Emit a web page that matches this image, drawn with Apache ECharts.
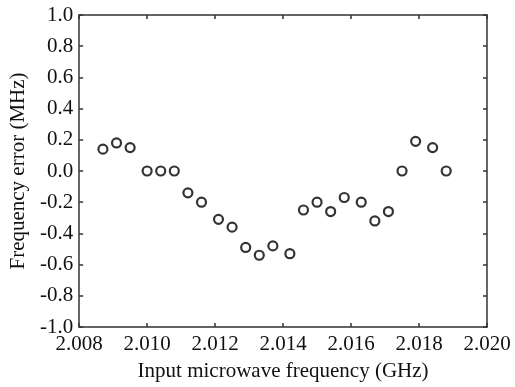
<!DOCTYPE html>
<html>
<head>
<meta charset="utf-8">
<script src="https://cdn.jsdelivr.net/npm/echarts@6/dist/echarts.min.js"></script>
<style>
  html, body { margin: 0; padding: 0; background: #fff; }
  #main { width: 515px; height: 387px; }
</style>
</head>
<body>
<div id="main"></div>
<script>
// input microwave frequency (GHz)
let freqs = [2.0087, 2.0091, 2.0095, 2.0100, 2.0104, 2.0108, 2.0112, 2.0116, 2.0121,
             2.0125, 2.0129, 2.0133, 2.0137, 2.0142, 2.0146, 2.0150, 2.0154, 2.0158,
             2.0163, 2.0167, 2.0171, 2.0175, 2.0179, 2.0184, 2.0188];
// frequency error (MHz)
let errors = [0.14, 0.18, 0.15, 0, 0, 0, -0.14, -0.20, -0.31,
              -0.36, -0.49, -0.54, -0.48, -0.53, -0.25, -0.20, -0.26, -0.17,
              -0.20, -0.32, -0.26, 0, 0.19, 0.15, 0];

let xTicks = [2.008, 2.010, 2.012, 2.014, 2.016, 2.018, 2.020];
let yTicks = [-1.0, -0.8, -0.6, -0.4, -0.2, 0.0, 0.2, 0.4, 0.6, 0.8, 1.0];

let font = 'Liberation Serif';
let axisColor = '#333';

let data = [];
freqs.forEach((f, i) => {
    data.push([f, errors[i]]);
});

let chart = echarts.init(document.getElementById('main'));

let lineStyle = { color: axisColor, width: 1.5 };
let tickStyle = { show: true, inside: true, length: 4, lineStyle: { color: axisColor, width: 1.5 } };

let xBase = {
    type: 'value',
    min: xTicks[0],
    max: xTicks[xTicks.length - 1],
    interval: 0.002,
    axisLine: { show: true, onZero: false, lineStyle: lineStyle },
    axisTick: tickStyle,
    splitLine: { show: false }
};
let yBase = {
    type: 'value',
    min: yTicks[0],
    max: yTicks[yTicks.length - 1],
    interval: 0.2,
    axisLine: { show: true, onZero: false, lineStyle: lineStyle },
    axisTick: tickStyle,
    splitLine: { show: false }
};

chart.setOption({
    animation: false,
    backgroundColor: '#fff',
    grid: { left: 78, right: 28, top: 15, bottom: 55 },
    xAxis: [
        Object.assign({}, xBase, {
            position: 'bottom',
            name: 'Input microwave frequency (GHz)',
            nameLocation: 'middle',
            nameGap: 34,
            nameTextStyle: { fontFamily: font, fontSize: 21, color: '#111' },
            axisLabel: {
                fontFamily: font, fontSize: 21, color: '#111', margin: 7,
                formatter: (v) => v.toFixed(3)
            }
        }),
        Object.assign({}, xBase, { position: 'top', axisLabel: { show: false } })
    ],
    yAxis: [
        Object.assign({}, yBase, {
            position: 'left',
            name: 'Frequency error (MHz)',
            nameLocation: 'middle',
            nameGap: 42,
            nameTextStyle: { fontFamily: font, fontSize: 21, color: '#111' },
            axisLabel: {
                fontFamily: font, fontSize: 21, color: '#111', margin: 6,
                formatter: (v) => v.toFixed(1)
            }
        }),
        Object.assign({}, yBase, { position: 'right', axisLabel: { show: false } })
    ],
    series: [{
        type: 'scatter',
        data: data,
        symbol: 'circle',
        symbolSize: 9,
        itemStyle: { color: 'transparent', borderColor: '#000', borderWidth: 2.2 }
    }]
});
</script>
</body>
</html>
